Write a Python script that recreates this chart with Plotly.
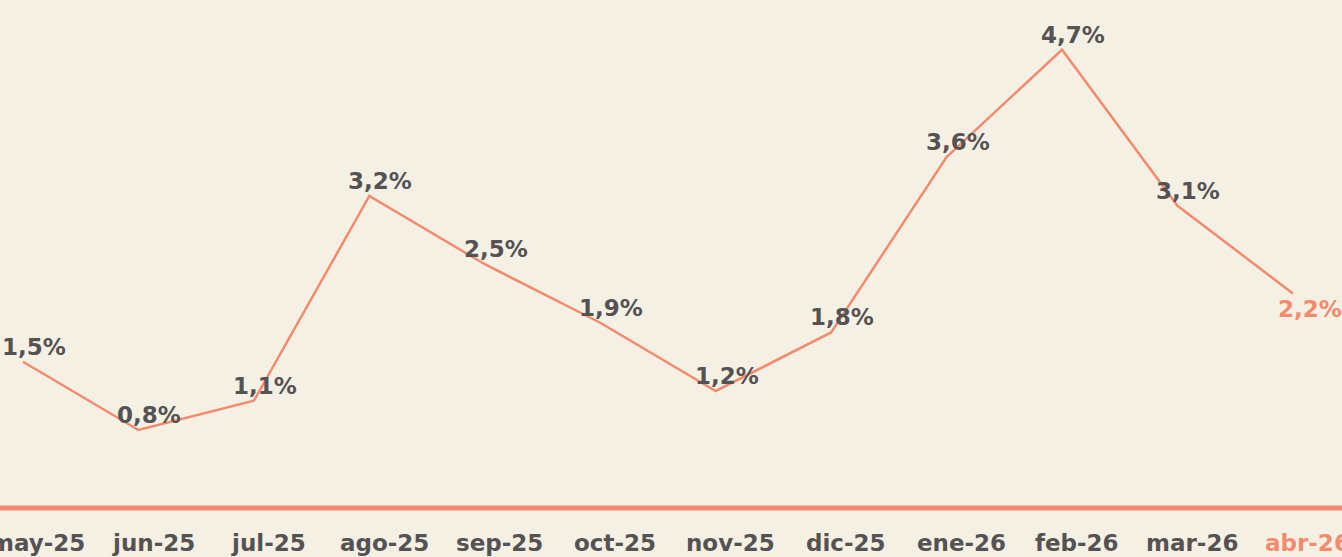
import plotly.graph_objects as go

months = ["may-25", "jun-25", "jul-25", "ago-25", "sep-25", "oct-25",
          "nov-25", "dic-25", "ene-26", "feb-26", "mar-26", "abr-26"]
values = [1.5, 0.8, 1.1, 3.2, 2.5, 1.9, 1.2, 1.8, 3.6, 4.7, 3.1, 2.2]
labels = ["1,5%", "0,8%", "1,1%", "3,2%", "2,5%", "1,9%",
          "1,2%", "1,8%", "3,6%", "4,7%", "3,1%", "2,2%"]

BG = "#f5f0e4"
ACCENT = "#f58b6e"
GRAY = "#555253"
FONT = "DejaVu Sans"
FSIZE = 23

xs = list(range(len(months)))
last = len(months) - 1

fig = go.Figure()
fig.add_trace(go.Scatter(
    x=xs, y=values, mode="lines",
    line=dict(color=ACCENT, width=2.5),
    hoverinfo="skip", showlegend=False,
))

# value labels
for i, (v, t) in enumerate(zip(values, labels)):
    is_last = i == last
    fig.add_annotation(
        x=i, y=v, text=t, showarrow=False,
        xshift=17 if is_last else 11,
        yshift=-16 if is_last else 15,
        font=dict(family=FONT, size=FSIZE, weight="bold",
                  color=ACCENT if is_last else GRAY),
    )

# x tick labels
for i, m in enumerate(months):
    is_last = i == last
    fig.add_annotation(
        x=i + 0.13, y=0, yref="paper", yanchor="top", text=m,
        showarrow=False, yshift=-20,
        font=dict(family=FONT, size=FSIZE, weight="bold",
                  color=ACCENT if is_last else GRAY),
    )

# baseline
fig.add_shape(type="line", xref="paper", yref="paper", x0=0, x1=1, y0=0, y1=0,
              line=dict(color=ACCENT, width=5), layer="above")

fig.update_layout(
    width=1342, height=557,
    paper_bgcolor=BG, plot_bgcolor=BG,
    margin=dict(l=0, r=0, t=0, b=49),
    xaxis=dict(range=[-0.199, 11.425], showgrid=False, zeroline=False,
               showticklabels=False, showline=False, fixedrange=True),
    yaxis=dict(range=[0, 5.21], showgrid=False, zeroline=False,
               showticklabels=False, showline=False, fixedrange=True),
)

fig.write_html(
    "out.html",
    config={"displayModeBar": False},
    post_script="document.body.style.margin='0';document.body.style.overflow='hidden';",
)
